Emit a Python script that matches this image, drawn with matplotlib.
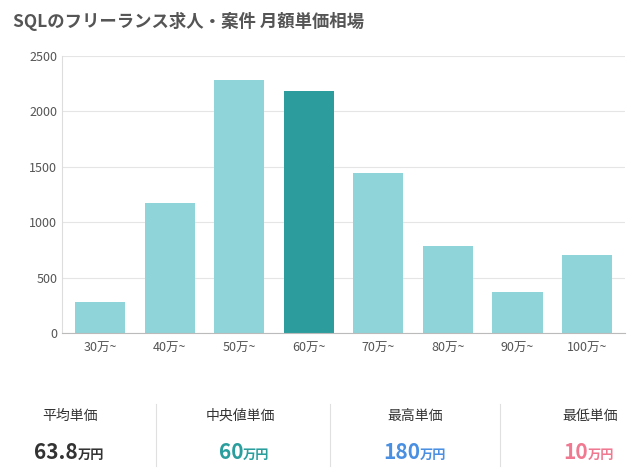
import matplotlib.pyplot as plt

plt.rcParams['font.family'] = 'Noto Sans CJK JP'

categories = ['30万~', '40万~', '50万~', '60万~', '70万~', '80万~', '90万~', '100万~']
counts = [285, 1170, 2280, 2180, 1440, 790, 370, 710]
highlight = 3

stat_labels = ['平均単価', '中央値単価', '最高単価', '最低単価']
stat_values = ['63.8', '60', '180', '10']
stat_colors = ['#333333', '#2a9d9d', '#4a90e2', '#f07890']

fig = plt.figure(figsize=(6.4, 4.75), dpi=100)
fig.text(0.02, 0.955, 'SQLのフリーランス求人・案件 月額単価相場', fontsize=12.5,
         fontweight='bold', color='#555555', va='center')

ax = fig.add_axes([0.097, 0.298, 0.88, 0.585])
colors = ['#2d9c9c' if i == highlight else '#8fd4d9' for i in range(len(counts))]
ax.bar(range(len(counts)), counts, width=0.72, color=colors)
ax.set_xlim(-0.55, len(counts) - 0.45)
ax.set_ylim(0, 2500)
ax.set_yticks(range(0, 2501, 500))
ax.set_xticks(range(len(categories)))
ax.set_xticklabels(categories)
ax.tick_params(colors='#555555', labelsize=9, length=0)
ax.tick_params(axis='x', pad=6)
ax.grid(axis='y', color='#e5e5e5', linewidth=0.8)
ax.set_axisbelow(True)
for s in ['top', 'right']:
    ax.spines[s].set_visible(False)
ax.spines['bottom'].set_color('#bbbbbb')
ax.spines['left'].set_color('#dddddd')

label_x = [0.11, 0.375, 0.648, 0.922]
split_x = [0.122, 0.380, 0.656, 0.919]
for lab, val, col, lx, sx in zip(stat_labels, stat_values, stat_colors, label_x, split_x):
    fig.text(lx, 0.125, lab, fontsize=10, color='#333333', ha='center', va='center')
    fig.text(sx, 0.048, val, fontsize=15, fontweight='bold', color=col, ha='right', va='center')
    fig.text(sx, 0.042, '万円', fontsize=9.5, fontweight='bold', color=col, ha='left', va='center')
for sx in [0.243, 0.515, 0.782]:
    fig.add_artist(plt.Line2D([sx, sx], [0.02, 0.15], color='#e0e0e0', linewidth=0.8))

fig.savefig('out.png', dpi=100)
